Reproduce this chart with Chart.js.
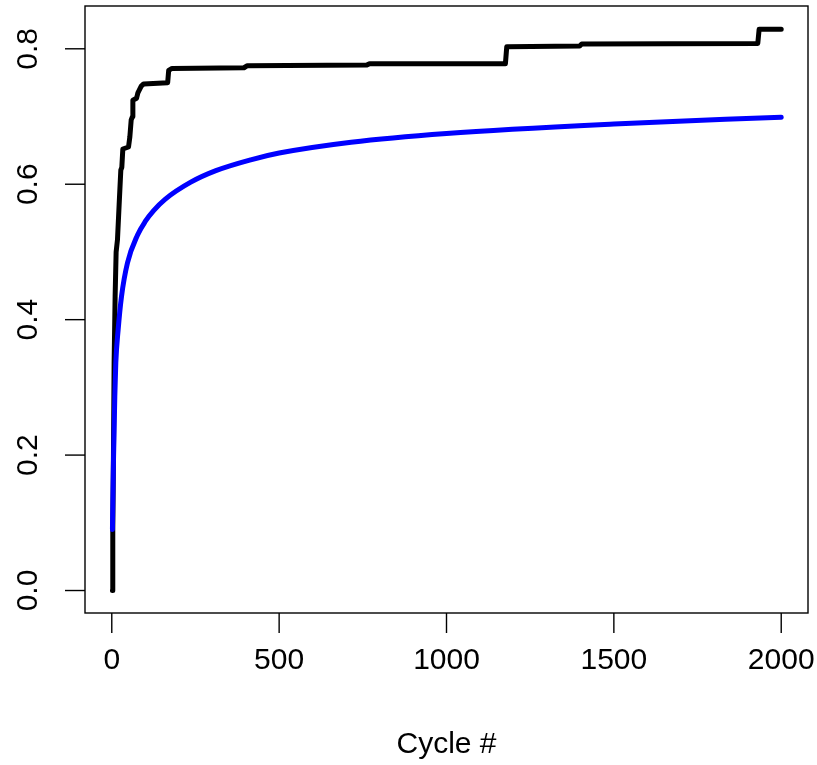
<!DOCTYPE html>
<html>
<head>
<meta charset="utf-8">
<script src="https://cdn.jsdelivr.net/npm/chart.js@4.4.1/dist/chart.umd.min.js"></script>
<style>
  html, body { margin: 0; padding: 0; background: #fff; }
  #wrap { width: 817px; height: 765px; }
</style>
</head>
<body>
<div id="wrap"><canvas id="chart" width="817" height="765"></canvas></div>
<script>
// valores
const blackCycles = [2, 3, 5, 7, 10, 13, 17, 22, 27, 30, 33, 50, 54, 58, 62, 63, 74, 78, 88, 95,
                     167, 170, 180, 395, 405, 762, 770, 1176, 1180, 1398, 1404, 1930, 1934, 2000];
const blackValues = [0.0, 0.09, 0.2, 0.336, 0.434, 0.5, 0.518, 0.57, 0.621, 0.625, 0.652, 0.655, 0.67, 0.695, 0.700, 0.724, 0.727, 0.735, 0.745, 0.748,
                     0.750, 0.768, 0.771, 0.772, 0.775, 0.776, 0.778, 0.778, 0.803, 0.804, 0.807, 0.808, 0.829, 0.829];
const blueCycles = [2, 5, 9, 12, 19, 29, 47, 77, 100, 125, 160, 236, 311, 415, 500, 715, 1000, 1500, 2000];
const blueValues = [0.09, 0.19, 0.286, 0.336, 0.385, 0.434, 0.484, 0.525, 0.545, 0.561, 0.578, 0.603, 0.620, 0.636, 0.646, 0.662, 0.675, 0.689, 0.699];
const xTicks = [0, 500, 1000, 1500, 2000];
const yTicks = [0, 0.2, 0.4, 0.6, 0.8];
const yTickLabels = ['0.0', '0.2', '0.4', '0.6', '0.8'];
const xTitle = 'Cycle #';

const FONT = "30px 'Liberation Sans', Arial, Helvetica, sans-serif";

// ejes al estilo R: caja, marcas hacia fuera, etiquetas del eje y giradas
const rAxes = {
    id: 'rAxes',
    afterDraw(chart) {
        const ctx = chart.ctx;
        const a = chart.chartArea;
        const xs = chart.scales.x, ys = chart.scales.y;
        ctx.save();
        ctx.strokeStyle = '#000';
        ctx.lineWidth = 1.4;
        ctx.strokeRect(a.left, a.top, a.right - a.left, a.bottom - a.top);

        ctx.fillStyle = '#000';
        ctx.font = FONT;
        ctx.textAlign = 'center';
        ctx.textBaseline = 'middle';
        xTicks.forEach(v => {
            const px = xs.getPixelForValue(v);
            ctx.beginPath();
            ctx.moveTo(px, a.bottom);
            ctx.lineTo(px, a.bottom + 20);
            ctx.stroke();
            ctx.fillText(String(v), px, a.bottom + 48);
        });
        yTicks.forEach((v, i) => {
            const py = ys.getPixelForValue(v);
            ctx.beginPath();
            ctx.moveTo(a.left - 20, py);
            ctx.lineTo(a.left, py);
            ctx.stroke();
            ctx.save();
            ctx.translate(29, py);
            ctx.rotate(-Math.PI / 2);
            ctx.fillText(yTickLabels[i], 0, 0);
            ctx.restore();
        });
        ctx.fillText(xTitle, (a.left + a.right) / 2, 745);
        ctx.restore();
    }
};

const toPoints = (xsArr, ysArr) => xsArr.map((c, i) => ({ x: c, y: ysArr[i] }));

new Chart(document.getElementById('chart').getContext('2d'), {
    type: 'line',
    data: {
        datasets: [{
            data: toPoints(blueCycles, blueValues),
            borderColor: '#0000ff',
            borderWidth: 5,
            pointRadius: 0,
            cubicInterpolationMode: 'monotone',
            borderCapStyle: 'round',
            borderJoinStyle: 'round',
            order: 1
        }, {
            data: toPoints(blackCycles, blackValues),
            borderColor: '#000000',
            borderWidth: 5,
            pointRadius: 0,
            tension: 0,
            borderCapStyle: 'round',
            borderJoinStyle: 'round',
            order: 2
        }]
    },
    options: {
        responsive: false,
        animation: false,
        devicePixelRatio: 1,
        layout: { padding: { left: 85, top: 6, right: 9, bottom: 152 } },
        plugins: { legend: { display: false }, tooltip: { enabled: false } },
        scales: {
            x: { type: 'linear', min: -80, max: 2080, display: false },
            y: { type: 'linear', min: -0.0332, max: 0.8632, display: false }
        }
    },
    plugins: [rAxes]
});
</script>
</body>
</html>
